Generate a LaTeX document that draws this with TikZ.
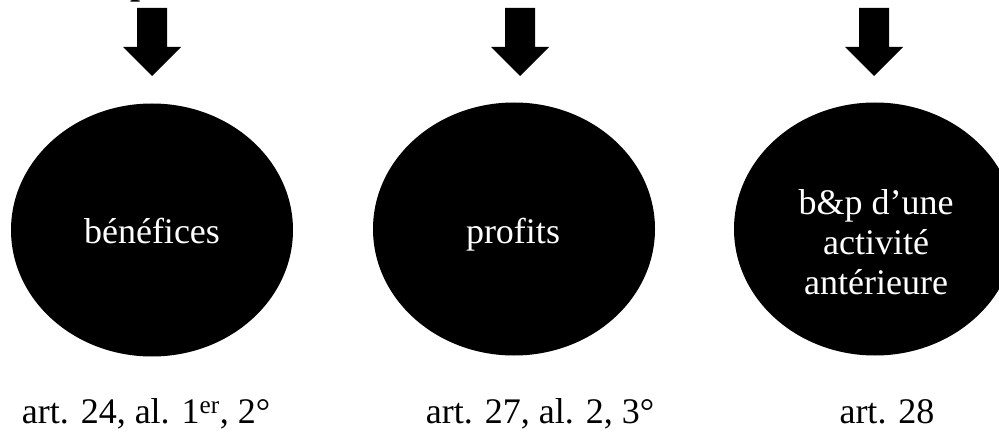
\documentclass[tikz,border=0pt]{standalone}
\usepackage{fontspec}
\setmainfont{Liberation Serif}
\usetikzlibrary{shapes.geometric,calc}
\tikzset{
  blob/.style={ellipse, fill=black, draw=none, minimum width=282pt, minimum height=253pt, inner sep=0pt},
  blobtext/.style={text=white, font=\fontsize{36}{40}\selectfont, inner sep=0pt, align=center},
  reftext/.style={text=black, font=\fontsize{36}{40}\selectfont, inner sep=0pt, anchor=base},
  downarrow/.style={fill=black, draw=none}
}
\newcommand{\fatarrow}[1]{%
  \fill[downarrow] ($(#1)+(-15,0)$) -- ($(#1)+(15,0)$) -- ($(#1)+(15,39)$) -- ($(#1)+(29,39)$)
    -- ($(#1)+(0,68)$) -- ($(#1)+(-29,39)$) -- ($(#1)+(-15,39)$) -- cycle;}
\begin{document}
\begin{tikzpicture}[x=1pt,y=-1pt]
\useasboundingbox (0,0) rectangle (999,433);
\clip (0,0) rectangle (999,433);
% partial text cut off at the top
\node[reftext, anchor=base west, font=\fontsize{36}{40}\selectfont\bfseries] (cut) at (130,-5) {p};
% arrows
\coordinate (a1) at (152,8);
\coordinate (a2) at (520,8);
\coordinate (a3) at (874,8);
\fatarrow{a1}
\fatarrow{a2}
\fatarrow{a3}
% ellipses
\node[blob] (e1) at (152,230) {};
\node[blob] (e2) at (514,229) {};
\node[blob] (e3) at (875,229) {};
\node[blobtext, anchor=base] (t1) at (152,243) {bénéfices};
\node[blobtext, anchor=base] (t2) at (513,243) {profits};
\node[blobtext, anchor=center] (t3) at (876,242) {b\&p d’une\\activité\\antérieure};
% references
\node[reftext] (r1) at (146,423) {art. 24, al. 1\textsuperscript{er}, 2°};
\node[reftext] (r2) at (540,423) {art. 27, al. 2, 3°};
\node[reftext] (r3) at (887,423) {art. 28};
\end{tikzpicture}
\end{document}
